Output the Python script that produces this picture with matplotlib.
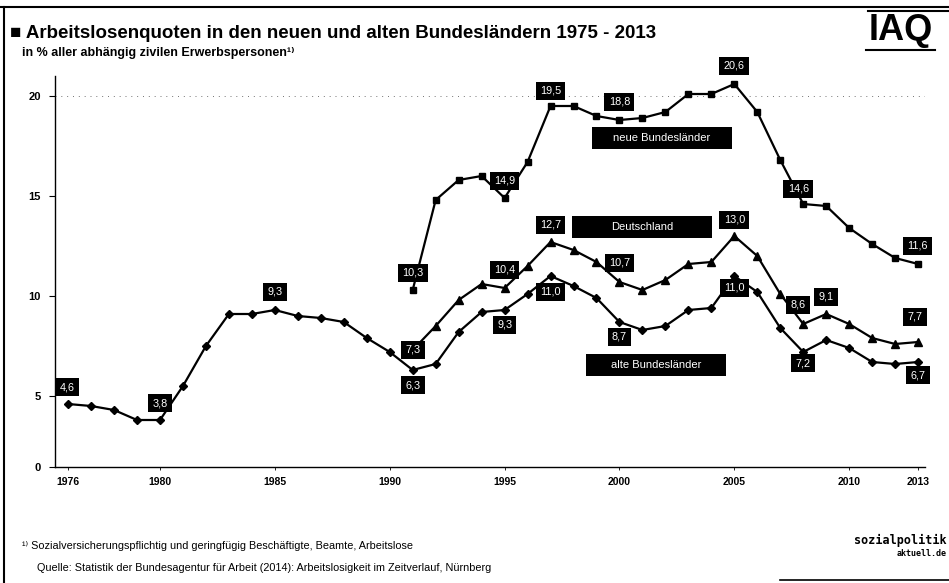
import numpy as np
import matplotlib
matplotlib.use("Agg")
import matplotlib.pyplot as plt
from matplotlib.patches import Rectangle
from matplotlib.lines import Line2D

plt.rcParams['font.family'] = ['Liberation Sans', 'DejaVu Sans']

# Daten (Arbeitslosenquoten in %)
jahre_west = list(range(1976, 2014))
west = [4.6, 4.5, 4.3, 3.8, 3.8, 5.5, 7.5, 9.1, 9.1, 9.3, 9.0, 8.9, 8.7, 7.9, 7.2,
        6.3, 6.6, 8.2, 9.2, 9.3, 10.1, 11.0, 10.5, 9.9, 8.7, 8.3, 8.5, 9.3, 9.4,
        11.0, 10.2, 8.4, 7.2, 7.8, 7.4, 6.7, 6.6, 6.7]
jahre_ost = list(range(1991, 2014))
ost = [10.3, 14.8, 15.8, 16.0, 14.9, 16.7, 19.5, 19.5, 19.0, 18.8, 18.9, 19.2,
       20.1, 20.1, 20.6, 19.2, 16.8, 14.6, 14.5, 13.4, 12.6, 11.9, 11.6]
deutschland = [7.3, 8.5, 9.8, 10.6, 10.4, 11.5, 12.7, 12.3, 11.7, 10.7, 10.3, 10.8,
               11.6, 11.7, 13.0, 12.0, 10.1, 8.6, 9.1, 8.6, 7.9, 7.6, 7.7]

xticks = [1976, 1980, 1985, 1990, 1995, 2000, 2005, 2010, 2013]
yticks = [0, 5, 10, 15, 20]

# beschriftete Jahre: (Jahr, Abstand oben/unten in px, Versatz x in px)
labels_ost = [(1991, 17, 0), (1995, 17, 0), (1997, 15, 0), (2000, 18, 0),
              (2005, 18, 0), (2008, 15, -5), (2013, 18, -1)]
labels_de = [(1991, 0, 0), (1995, 18, 0), (1997, 17, 0), (2000, 19, 0),
             (2005, 16, 0), (2008, 19, -5), (2009, 17, 0), (2013, 25, -3)]
labels_west = [(1976, 17, -1), (1980, 17, 0), (1985, 18, 0), (1991, -15, 0),
               (1995, -15, 0), (1997, -16, 0), (2000, -15, 0), (2005, -12, 0),
               (2008, -11, 0), (2013, -13, 0)]

# unterer Bereich der Achse ist gestaucht (Achsenbruch wie im Original)
K = 31 / 60.0


def fwd(y):
    y = np.asarray(y, dtype=float)
    return np.where(y < 3, y * K, 3 * K + (y - 3))


def inv(z):
    z = np.asarray(z, dtype=float)
    return np.where(z < 3 * K, z / K, z - 3 * K + 3)


W, H = 949, 583
fig = plt.figure(figsize=(W / 100, H / 100), dpi=100)
ax = fig.add_axes([55 / W, 1 - 467 / H, 870 / W, 391 / H])
ax.set_yscale('function', functions=(fwd, inv))

ax.plot(jahre_ost, ost, color='black', lw=1.6, marker='s', ms=4.4, zorder=3)
ax.plot(jahre_ost, deutschland, color='black', lw=1.6, marker='^', ms=5.2, zorder=3)
ax.plot(jahre_west, west, color='black', lw=1.6, marker='D', ms=3.7, zorder=3)

ax.axhline(20, color='0.45', lw=0.7, ls=(0, (1, 5)), zorder=1)

ax.set_xlim(1975.43, 2013.3)
ax.set_ylim(0, 21)
ax.set_xticks(xticks)
ax.set_yticks(yticks)
ax.set_xticklabels([str(x) for x in xticks], fontsize=7.5, fontweight='bold')
ax.set_yticklabels([str(y) for y in yticks], fontsize=8, fontweight='bold')
ax.tick_params(axis='y', length=4, width=0.8, pad=6)
ax.tick_params(axis='x', length=2, width=0.6, pad=5)
ax.spines['top'].set_visible(False)
ax.spines['right'].set_visible(False)
ax.spines['left'].set_linewidth(1.0)
ax.spines['bottom'].set_linewidth(1.0)


def werte_beschriften(jahre, werte, labels):
    for jahr, dy, dx in labels:
        v = werte[jahre.index(jahr)]
        ax.annotate(f"{v:.1f}".replace('.', ','), (jahr, v),
                    xytext=(dx * 0.72, dy * 0.72), textcoords='offset points',
                    ha='center', va='center', color='white', fontsize=7.8,
                    bbox=dict(boxstyle='square,pad=0.4', fc='black', ec='none'),
                    zorder=5)


werte_beschriften(jahre_ost, ost, labels_ost)
werte_beschriften(jahre_ost, deutschland, labels_de)
werte_beschriften(jahre_west, west, labels_west)

# Reihennamen in schwarzen Kästen
for name, cx, cy in [("neue Bundesländer", 662, 138), ("Deutschland", 642, 227),
                     ("alte Bundesländer", 656, 365)]:
    fig.add_artist(Rectangle(((cx - 70) / W, 1 - (cy + 11) / H), 140 / W, 22 / H,
                             transform=fig.transFigure, fc='black', ec='none',
                             zorder=6))
    fig.text(cx / W, 1 - cy / H, name, color='white', fontsize=8,
             ha='center', va='center', zorder=7)

# Titel
fig.text(10 / W, 1 - 33 / H,
         "■ Arbeitslosenquoten in den neuen und alten Bundesländern 1975 - 2013",
         fontsize=13.5, fontweight='bold', va='center')
fig.text(22 / W, 1 - 53 / H, "in % aller abhängig zivilen Erwerbspersonen¹⁾",
         fontsize=9, fontweight='bold', va='center')

# Fußnoten
fig.text(22 / W, 1 - 546 / H,
         "¹⁾ Sozialversicherungspflichtig und geringfügig Beschäftigte, Beamte, Arbeitslose",
         fontsize=7.8, va='center')
fig.text(37 / W, 1 - 568 / H,
         "Quelle: Statistik der Bundesagentur für Arbeit (2014): Arbeitslosigkeit im Zeitverlauf, Nürnberg",
         fontsize=7.8, va='center')

# Rahmen
fig.add_artist(Line2D([0, 1], [1 - 7 / H, 1 - 7 / H], transform=fig.transFigure,
                      color='black', lw=1.5))
fig.add_artist(Line2D([4 / W, 4 / W], [0, 1 - 7 / H], transform=fig.transFigure,
                      color='black', lw=1.5))
fig.add_artist(Line2D([780 / W, 1], [1 - 580 / H, 1 - 580 / H],
                      transform=fig.transFigure, color='black', lw=1.2))

# IAQ Logo
fig.text(901 / W, 1 - 31 / H, "IAQ", fontsize=26, fontweight='bold',
         ha='center', va='center')
fig.add_artist(Line2D([868 / W, 1], [1 - 11 / H, 1 - 11 / H],
                      transform=fig.transFigure, color='black', lw=1.5))
fig.add_artist(Line2D([866 / W, 935 / W], [1 - 50 / H, 1 - 50 / H],
                      transform=fig.transFigure, color='black', lw=1.5))

# Sozialpolitik-aktuell Logo (vereinfacht)
fig.text(947 / W, 1 - 540 / H, "sozialpolitik", fontsize=8.5, fontweight='bold',
         family='DejaVu Sans Mono', ha='right', va='center')
fig.text(947 / W, 1 - 553 / H, "aktuell.de", fontsize=6, fontweight='bold',
         family='DejaVu Sans Mono', ha='right', va='center')

fig.savefig("out.png", dpi=100)
